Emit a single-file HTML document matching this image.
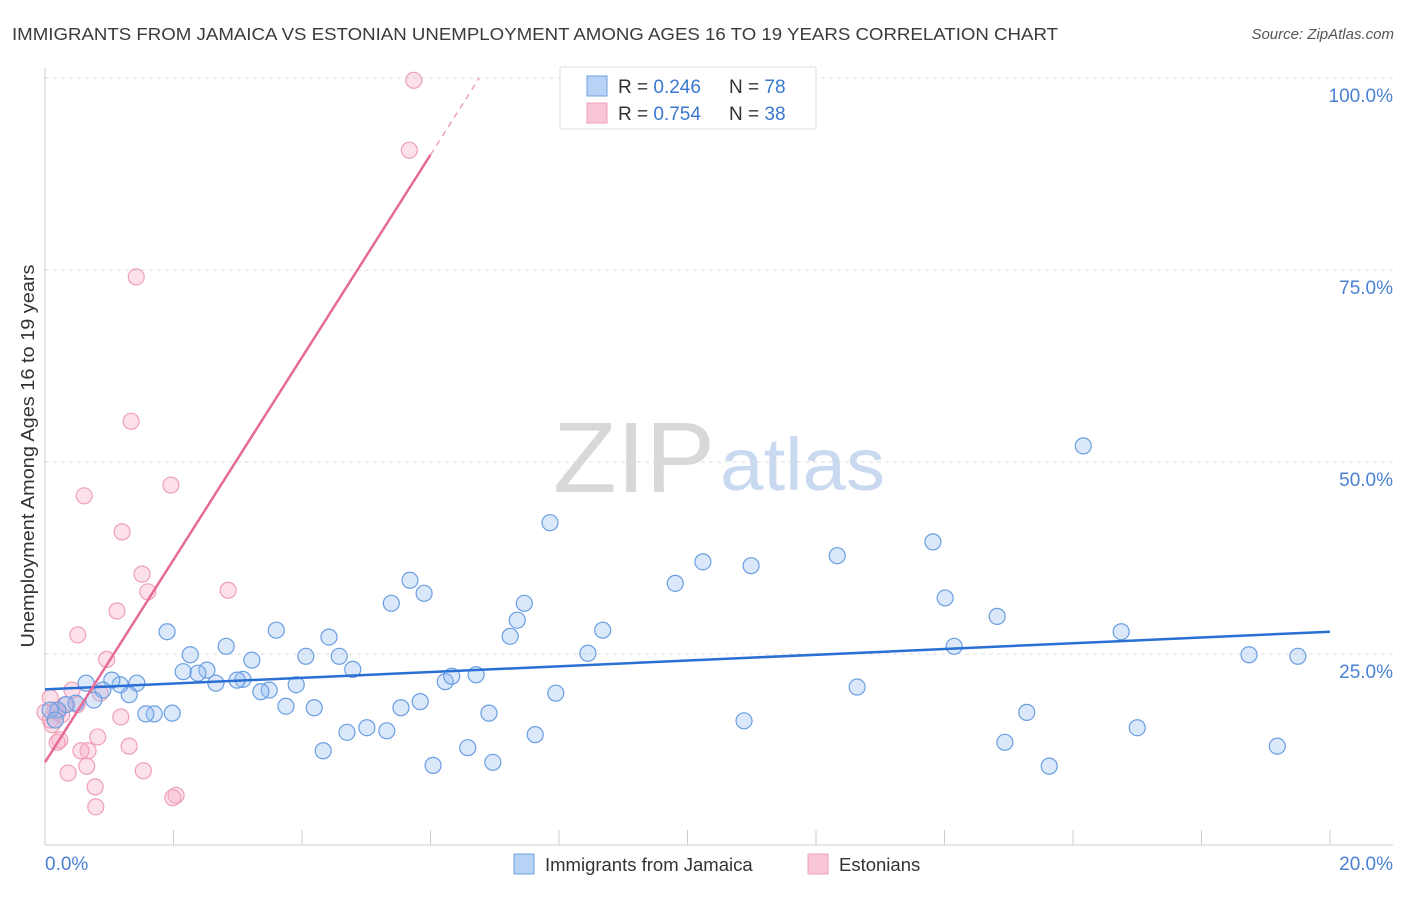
<!DOCTYPE html>
<html><head><meta charset="utf-8"><style>
body{margin:0;background:#fff;font-family:"Liberation Sans",sans-serif;}
svg text{font-family:"Liberation Sans",sans-serif;}
</style></head><body>
<svg id="chart" width="1406" height="892" xmlns="http://www.w3.org/2000/svg">
<text x="12" y="40" font-size="17.5" fill="#3a3a3a" textLength="1046" lengthAdjust="spacingAndGlyphs">IMMIGRANTS FROM JAMAICA VS ESTONIAN UNEMPLOYMENT AMONG AGES 16 TO 19 YEARS CORRELATION CHART</text>
<text x="1394" y="39" font-size="15" fill="#555" font-style="italic" text-anchor="end">Source: ZipAtlas.com</text>
<g>
<text x="553" y="492" font-size="100" fill="#d8d8d8" font-family="Liberation Serif, serif" textLength="162" lengthAdjust="spacingAndGlyphs">ZIP</text>
<text x="720" y="490" font-size="74" fill="#c9d9f0" textLength="165" lengthAdjust="spacingAndGlyphs">atlas</text>
</g>
<g id="grid"></g><g id="axes"></g><g id="marks"></g>
<text transform="translate(34,456) rotate(-90)" font-size="18" fill="#333" text-anchor="middle" textLength="383" lengthAdjust="spacingAndGlyphs">Unemployment Among Ages 16 to 19 years</text>
<g>
<rect x="560" y="67" width="256" height="62" fill="#fff" stroke="#ddd"/>
<rect x="587" y="76" width="20" height="20" fill="#b8d2f5" stroke="#6fa0e0"/>
<rect x="587" y="103" width="20" height="20" fill="#f9c6d6" stroke="#f0a0b8"/>
<text x="618" y="93" font-size="19" fill="#333">R = <tspan fill="#3a78d0">0.246</tspan></text>
<text x="729" y="93" font-size="19" fill="#333">N = <tspan fill="#3a78d0">78</tspan></text>
<text x="618" y="120" font-size="19" fill="#333">R = <tspan fill="#3a78d0">0.754</tspan></text>
<text x="729" y="120" font-size="19" fill="#333">N = <tspan fill="#3a78d0">38</tspan></text>
</g>
<g>
<rect x="514" y="854" width="20" height="20" fill="#b8d2f5" stroke="#6fa0e0"/>
<text x="545" y="871" font-size="18.5" fill="#333">Immigrants from Jamaica</text>
<rect x="808" y="854" width="20" height="20" fill="#f9c6d6" stroke="#f0a0b8"/>
<text x="839" y="871" font-size="18.5" fill="#333">Estonians</text>
</g>
</svg>
<script>
const blueX=[7.86,10.24,10.99,12.33,13.82,9.81,5.68,5.90,5.39,7.46,7.35,7.24,8.68,8.45,14.01,14.82,14.15,16.75,16.16,18.74,19.50,19.18,17.00,15.28,14.94,15.63,12.64,10.88,7.95,7.63,6.91,6.58,6.97,6.04,5.84,5.54,5.32,5.01,4.70,4.33,4.19,3.75,4.79,4.58,4.42,4.06,3.60,3.91,3.49,3.36,3.08,2.99,3.22,2.82,2.66,2.52,2.38,2.15,2.26,1.90,1.98,1.70,1.57,1.43,1.31,1.17,1.04,0.90,0.76,0.64,0.48,0.33,0.20,0.08,0.16,6.23,6.33,6.71];
const blueY=[42.1,37.0,36.5,37.8,39.6,34.2,34.6,32.9,31.6,31.6,29.4,27.3,28.1,25.1,32.3,29.9,26.0,27.9,52.1,24.9,24.7,13.0,15.4,17.4,13.5,10.4,20.7,16.3,19.9,14.5,17.3,12.8,10.9,10.5,18.8,18.0,15.0,15.4,14.8,12.4,18.0,18.2,23.0,24.7,27.2,24.7,28.1,21.0,20.3,20.1,21.7,21.6,24.2,26.0,21.2,22.9,22.5,22.7,24.9,27.9,17.3,17.2,17.2,21.2,19.7,21.0,21.6,20.3,19.0,21.2,18.6,18.4,17.7,17.7,16.4,21.4,22.1,22.3];
const pinkX=[5.74,5.67,1.42,1.34,0.61,1.96,1.20,1.51,1.60,2.85,1.12,0.51,0.96,0.86,0.42,0.50,0.31,0.16,0.08,0.11,0.23,0.19,0.82,1.18,1.31,0.67,0.56,0.65,0.36,1.53,0.78,0.79,2.04,1.99,0.08,0.20,0.26,0.0];
const pinkY=[99.7,90.6,74.1,55.3,45.6,47.0,40.9,35.4,33.1,33.3,30.6,27.5,24.3,19.9,20.3,18.4,18.4,17.7,16.4,15.8,13.8,13.5,14.2,16.8,13.0,12.4,12.4,10.4,9.5,9.8,7.7,5.1,6.6,6.3,19.3,17.4,17.1,17.4];
const blueFit=[20.4,27.9];
const pinkFit=[10.9,90];
const yTicks=[25,50,75,100];
const yTickLabels=["25.0%","50.0%","75.0%","100.0%"];
const xTicks=[0,2,4,6,8,10,12,14,16,18,20];
const xs=v=>45+v*64.25, ys=v=>846-v*7.68;
const NS="http://www.w3.org/2000/svg";
function mk(t,a,p){const e=document.createElementNS(NS,t);for(const k in a)e.setAttribute(k,a[k]);p.appendChild(e);return e;}
const grid=document.getElementById('grid'),axes=document.getElementById('axes'),marks=document.getElementById('marks');
yTicks.forEach((v,i)=>{
 const l=mk('line',{x1:45,x2:1393,y1:ys(v),y2:ys(v),stroke:'#ddd','stroke-dasharray':'4,4'},grid);
 
 
 const t=mk('text',{x:1393,y:ys(v)+24,'font-size':19,fill:'#4a7fd4','text-anchor':'end'},axes);
 t.textContent=yTickLabels[i];
 
 
});
const xa=mk('line',{x1:45,x2:1393,y1:845,y2:845,stroke:'#ccc'},axes);


const ya=mk('line',{x1:45,x2:45,y1:68,y2:845,stroke:'#ccc'},axes);


xTicks.forEach(v=>{const l=mk('line',{x1:xs(v),x2:xs(v),y1:830,y2:845,stroke:'#ccc'},axes);
 
 });
[[0,'0.0%','start',45],[20,'20.0%','end',1393]].forEach(d=>{const t=mk('text',{x:d[3],y:870,'font-size':19,fill:'#4a7fd4','text-anchor':d[2]},axes);t.textContent=d[1];
 
 });
pinkX.forEach((x,i)=>{const c=mk('circle',{cx:xs(x),cy:ys(pinkY[i]),r:8,fill:'rgba(245,170,195,0.35)',stroke:'#ef9fb8','stroke-width':1.2},marks);
 
 });
blueX.forEach((x,i)=>{const c=mk('circle',{cx:xs(x),cy:ys(blueY[i]),r:8,fill:'rgba(150,190,240,0.35)',stroke:'#6a9ee2','stroke-width':1.2},marks);
 
 });
const bl=mk('line',{x1:xs(0),y1:ys(blueFit[0]),x2:xs(20),y2:ys(blueFit[1]),stroke:'#2a6fd4','stroke-width':2.5},marks);


const slope=(pinkFit[1]-pinkFit[0])/6;
const pl=mk('line',{x1:xs(0),y1:ys(pinkFit[0]),x2:xs(6),y2:ys(pinkFit[1]),stroke:'#e66a97','stroke-width':2.5},marks);


const xe=(100-pinkFit[0])/slope;
const pd=mk('line',{x1:xs(6),y1:ys(pinkFit[1]),x2:xs(xe),y2:ys(100),stroke:'#eea0bb','stroke-width':1.5,'stroke-dasharray':'6,5'},marks);


</script>
</body></html>
